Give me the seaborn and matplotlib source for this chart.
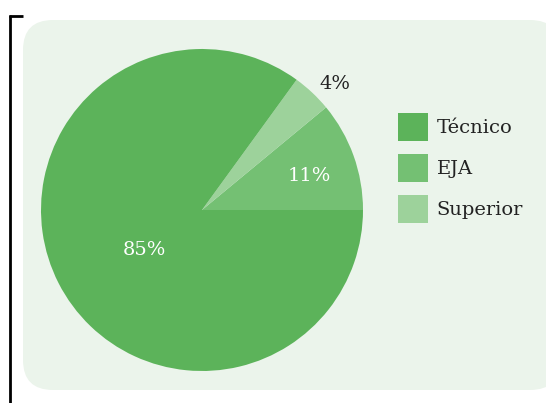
import matplotlib
matplotlib.use("Agg")
import matplotlib.pyplot as plt
import seaborn as sns
import numpy as np
from matplotlib.patches import FancyBboxPatch, Patch
from matplotlib.lines import Line2D

sns.set_theme(style="white")
plt.rcParams['font.family'] = ['DejaVu Serif']

categories = ["Técnico", "EJA", "Superior"]
values = [85, 11, 4]
labels = ["85%", "11%", "4%"]
colors = ["#5cb35a", "#74c073", "#9dd29b"]

W, H = 546, 403
fig = plt.figure(figsize=(W / 100, H / 100), dpi=100)
fig.patch.set_facecolor("white")

# background rounded panel
bg = FancyBboxPatch((23 / W, (H - 390) / H), (560 - 23) / W, (390 - 20) / H,
                    boxstyle="round,pad=0,rounding_size=0.055",
                    transform=fig.transFigure, facecolor="#ebf4eb",
                    edgecolor="none", mutation_aspect=W / H, zorder=-5)
fig.add_artist(bg)

# black bracket at left
fig.add_artist(Line2D([9.5 / W, 9.5 / W], [0, (H - 15) / H], color="black", lw=2,
                      transform=fig.transFigure, solid_capstyle="butt"))
fig.add_artist(Line2D([8.5 / W, 23 / W], [(H - 15.5) / H, (H - 15.5) / H], color="black", lw=2,
                      transform=fig.transFigure, solid_capstyle="butt"))

cx, cy, r = 202, 210, 161
ax = fig.add_axes([(cx - r) / W, (H - cy - r) / H, 2 * r / W, 2 * r / H])
ax.set_zorder(2)
ax.patch.set_visible(False)
ax.axis("off")

# order drawn counterclockwise from 3 o'clock: EJA, Superior, Técnico
order = [1, 2, 0]
pvals = [values[i] for i in order]
pcols = [colors[i] for i in order]
wedges, _ = ax.pie(pvals, colors=pcols, startangle=0, counterclock=True, radius=1,
                   wedgeprops=dict(linewidth=0))
ax.set_xlim(-1, 1)
ax.set_ylim(-1, 1)
ax.set_aspect("equal")

dist = {0: 0.44, 1: 0.70, 2: 1.07}
ha = {0: "center", 1: "center", 2: "left"}
tcol = {0: "white", 1: "white", 2: "#222222"}
shift = {0: (4.0, -5.8), 1: (0.8, -2.9), 2: (0.0, 0.0)}  # points
for w, i in zip(wedges, order):
    ang = np.deg2rad((w.theta1 + w.theta2) / 2)
    d = dist[i]
    ax.annotate(labels[i], xy=(d * np.cos(ang), d * np.sin(ang)), xytext=shift[i],
                textcoords="offset points", ha=ha[i], va="center",
                color=tcol[i], fontsize=14, annotation_clip=False)

handles = [Patch(facecolor=c, edgecolor="none") for c in colors]
leg = fig.legend(handles, categories, loc="upper left", bbox_to_anchor=(398 / W, (H - 113) / H),
                 frameon=False, fontsize=14, handlelength=1.53, handleheight=1.85,
                 handletextpad=0.45, labelspacing=0.65, borderaxespad=0, borderpad=0)
for t in leg.get_texts():
    t.set_color("#222222")

fig.savefig("out.png", dpi=100)
